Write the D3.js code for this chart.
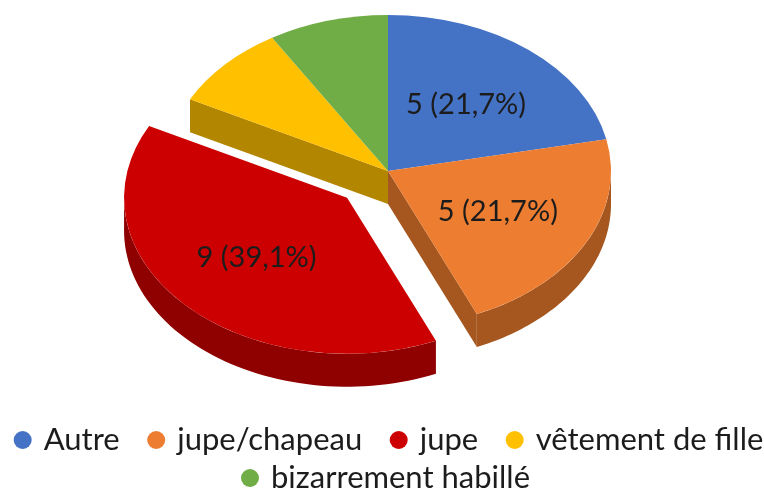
<!DOCTYPE html>
<html><head><meta charset="utf-8">
<script src="https://cdn.jsdelivr.net/npm/d3@7"></script>
<style>html,body{margin:0;background:#fff}svg{display:block}text{font-family:Lato,sans-serif;fill:#1c1c1c}</style>
</head><body><svg id="c" width="764" height="489"></svg>
<script>
const categories = ["Autre","jupe/chapeau","jupe","vêtement de fille","bizarrement habillé"];
const counts = [5,5,9,2,2];
const labels = ["5 (21,7%)","5 (21,7%)","9 (39,1%)","",""];
const topColors = ["#4472C4","#ED7D31","#CC0000","#FFC000","#70AD47"];
const wallColors = ["#2F5597","#A5571F","#8F0000","#B38600","#4E7A31"];

const W=764,H=489,cx=388,cy=171,rx=223,ry=156,depth=33,explode=56;
const svg=d3.select("#c");
const g=svg.append("g").style("filter","blur(0.5px)");
const arcs=d3.pie().sort(null).value(d=>d)(counts).map((a,i)=>({...a,i}));
const sx=d3.scaleLinear().domain([-1,1]).range([-rx,rx]);
const sy=d3.scaleLinear().domain([-1,1]).range([-ry,ry]);
const offset=a=>{
  if(a.i!==2) return [0,0];
  const m=(a.startAngle+a.endAngle)/2;
  return [sx(Math.sin(m)*explode/rx),-sy(Math.cos(m)*explode/rx)];
};
const rim=t=>[sx(Math.sin(t)),-sy(Math.cos(t))];
const line=d3.line();
const arcGen=d3.arc().innerRadius(0).outerRadius(rx);
function outerWall(a,from,to){
  const [dx,dy]=offset(a);
  const ts=d3.range(0,61).map(k=>from+(to-from)*k/60);
  const upper=ts.map(rim).map(p=>[p[0]+dx+cx,p[1]+dy+cy]);
  const lower=upper.slice().reverse().map(p=>[p[0],p[1]+depth]);
  g.append("path").attr("d",line(upper.concat(lower))+"Z").attr("fill",wallColors[a.i]);
}
function radialWall(a,t){
  const [dx,dy]=offset(a);
  const p=rim(t);
  const pts=[[cx+dx,cy+dy],[cx+dx+p[0],cy+dy+p[1]],[cx+dx+p[0],cy+dy+p[1]+depth],[cx+dx,cy+dy+depth]];
  g.append("path").attr("d",line(pts)+"Z").attr("fill",wallColors[a.i]);
}
radialWall(arcs[3],arcs[3].startAngle);
radialWall(arcs[1],arcs[1].endAngle);
outerWall(arcs[1],Math.PI/2,arcs[1].endAngle);
outerWall(arcs[2],arcs[2].startAngle,3*Math.PI/2);
arcs.forEach(a=>{
  const [dx,dy]=offset(a);
  g.append("path").attr("transform",`translate(${cx+dx},${cy+dy}) scale(1,${ry/rx})`)
   .attr("d",arcGen(a)).attr("fill",topColors[a.i]);
});
const labelFactor=0.555;
arcs.forEach(a=>{
  if(!labels[a.i])return;
  const [dx,dy]=offset(a);
  const m=(a.startAngle+a.endAngle)/2, p=rim(m);
  g.append("text").attr("x",cx+dx+p[0]*labelFactor).attr("y",cy+dy+p[1]*labelFactor+10)
   .attr("text-anchor","middle").attr("font-size",29).text(labels[a.i]);
});
const rows=[[0,1,2,3],[4]],rowY=[440,478],rowShift=[6.5,3.5];
const fs=31,dotGap=21,itemGap=36.5,dotR=9;
rows.forEach((row,ri)=>{
  const t=g.append("g");
  let x=0;
  row.forEach(i=>{
    t.append("circle").attr("cx",x).attr("cy",rowY[ri]).attr("r",dotR).attr("fill",topColors[i]);
    const tx=t.append("text").attr("x",x+dotGap).attr("y",rowY[ri]+9.5).attr("font-size",fs).text(categories[i]);
    x+=dotGap+tx.node().getComputedTextLength()+itemGap;
  });
  const total=x-itemGap+dotR;
  t.attr("transform",`translate(${(W-total)/2+dotR+rowShift[ri]},0)`);
});
</script></body></html>
